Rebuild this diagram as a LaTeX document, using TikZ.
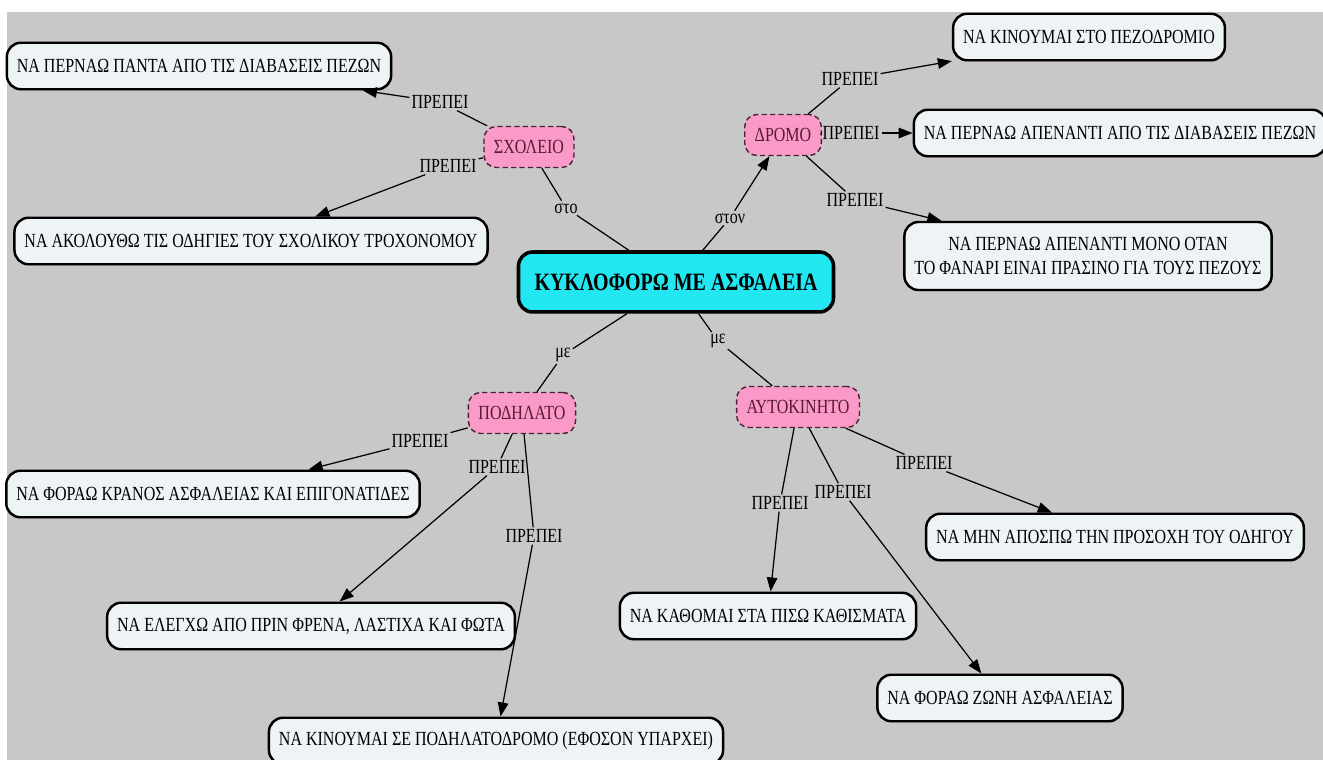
\documentclass[tikz,border=0pt]{standalone}
\usepackage{fontspec}
\setmainfont[FakeStretch=0.8]{Liberation Serif}
\usepackage{tikz}
\usetikzlibrary{positioning}
\usetikzlibrary{arrows.meta}
\usetikzlibrary{shadows}
\definecolor{bggray}{HTML}{C8C8C8}
\definecolor{leafblue}{HTML}{EEF3F6}
\definecolor{topicpink}{HTML}{FA9AC8}
\definecolor{topicline}{HTML}{4A2233}
\definecolor{topictext}{HTML}{5A1A30}
\definecolor{rootcyan}{HTML}{22E6F0}

\begin{document}
\begin{tikzpicture}[x=0.02cm,y=-0.02cm,
    every node/.style={font=\fontsize{11.4}{13.5}\selectfont},
    leaf/.style={draw=black,line width=1.4pt,rounded corners=8pt,fill=leafblue,
      inner xsep=0.2cm,minimum height=0.93cm,align=center,
      drop shadow={shadow xshift=0.6pt,shadow yshift=-0.8pt,opacity=0.45}},
    topic/.style={draw=topicline,line width=0.8pt,dash pattern=on 3pt off 1.8pt,
      rounded corners=7pt,fill=topicpink,text=topictext,inner xsep=0.2cm,minimum height=0.82cm},
    root/.style={draw=black,line width=2pt,rounded corners=8pt,fill=rootcyan,
      inner xsep=0.32cm,minimum height=1.2cm,font=\fontsize{14.2}{16}\selectfont\bfseries},
    link/.style={inner sep=1pt,text=black},
    conn/.style={line width=0.7pt},
    arr/.style={conn,-{Triangle[length=8pt,width=6pt]}}]

  % background
  \useasboundingbox (0,0) rectangle (1323,760);
  \fill[white] (0,0) rectangle (1323,760);
  \fill[bggray] (7,12) rectangle (1323,760);

  % middle
  \node[root] (safe) at (676,282) {ΚΥΚΛΟΦΟΡΩ ΜΕ ΑΣΦΑΛΕΙΑ};

  \node[topic] (school) at (529,147) {ΣΧΟΛΕΙΟ};
  \node[topic] (road) at (783,135) {ΔΡΟΜΟ};
  \node[topic] (bike) at (522,413) {ΠΟΔΗΛΑΤΟ};
  \node[topic] (car) at (798,407) {ΑΥΤΟΚΙΝΗΤΟ};

  \node[leaf] (crossing) at (199,66) {ΝΑ ΠΕΡΝΑΩ ΠΑΝΤΑ ΑΠΟ ΤΙΣ ΔΙΑΒΑΣΕΙΣ ΠΕΖΩΝ};
  \node[leaf] (warden) at (251,241) {ΝΑ ΑΚΟΛΟΥΘΩ ΤΙΣ ΟΔΗΓΙΕΣ ΤΟΥ ΣΧΟΛΙΚΟΥ ΤΡΟΧΟΝΟΜΟΥ};
  \node[leaf] (pavement) at (1089,37) {ΝΑ ΚΙΝΟΥΜΑΙ ΣΤΟ ΠΕΖΟΔΡΟΜΙΟ};
  \node[leaf] (zebra) at (1120,133) {ΝΑ ΠΕΡΝΑΩ ΑΠΕΝΑΝΤΙ ΑΠΟ ΤΙΣ ΔΙΑΒΑΣΕΙΣ ΠΕΖΩΝ};
  \node[leaf,minimum height=1.36cm] (light) at (1088,256) {ΝΑ ΠΕΡΝΑΩ ΑΠΕΝΑΝΤΙ ΜΟΝΟ ΟΤΑΝ\\ΤΟ ΦΑΝΑΡΙ ΕΙΝΑΙ ΠΡΑΣΙΝΟ ΓΙΑ ΤΟΥΣ ΠΕΖΟΥΣ};
  \node[leaf] (helmet) at (213,494) {ΝΑ ΦΟΡΑΩ ΚΡΑΝΟΣ ΑΣΦΑΛΕΙΑΣ ΚΑΙ ΕΠΙΓΟΝΑΤΙΔΕΣ};
  \node[leaf] (brakes) at (311,626) {ΝΑ ΕΛΕΓΧΩ ΑΠΟ ΠΡΙΝ ΦΡΕΝΑ, ΛΑΣΤΙΧΑ ΚΑΙ ΦΩΤΑ};
  \node[leaf] (lane) at (496,741) {ΝΑ ΚΙΝΟΥΜΑΙ ΣΕ ΠΟΔΗΛΑΤΟΔΡΟΜΟ (ΕΦΟΣΟΝ ΥΠΑΡΧΕΙ)};
  \node[leaf] (driver) at (1115,537) {ΝΑ ΜΗΝ ΑΠΟΣΠΩ ΤΗΝ ΠΡΟΣΟΧΗ ΤΟΥ ΟΔΗΓΟΥ};
  \node[leaf] (backseat) at (768,616) {ΝΑ ΚΑΘΟΜΑΙ ΣΤΑ ΠΙΣΩ ΚΑΘΙΣΜΑΤΑ};
  \node[leaf] (belt) at (1000,698) {ΝΑ ΦΟΡΑΩ ΖΩΝΗ ΑΣΦΑΛΕΙΑΣ};

  % link words
  \node[link] (sto) at (566,208) {στο};
  \node[link] (ston) at (730,218) {στον};
  \node[link] (me1) at (563,355) {με};
  \node[link] (me2) at (718,341) {με};
  \node[link] (s1) at (440,102) {ΠΡΕΠΕΙ};
  \node[link] (s2) at (448,166) {ΠΡΕΠΕΙ};
  \node[link] (r1) at (850,79) {ΠΡΕΠΕΙ};
  \node[link] (r2) at (851,133) {ΠΡΕΠΕΙ};
  \node[link] (r3) at (855,200) {ΠΡΕΠΕΙ};
  \node[link] (b1) at (420,441) {ΠΡΕΠΕΙ};
  \node[link] (b2) at (497,467) {ΠΡΕΠΕΙ};
  \node[link] (b3) at (534,536) {ΠΡΕΠΕΙ};
  \node[link] (c1) at (780,503) {ΠΡΕΠΕΙ};
  \node[link] (c2) at (843,492) {ΠΡΕΠΕΙ};
  \node[link] (c3) at (924,463) {ΠΡΕΠΕΙ};

  \draw[conn] (safe) -- (sto);
  \draw[conn] (sto) -- (school);
  \draw[conn] (safe) -- (ston);
  \draw[arr] (ston) -- (road);
  \draw[conn] (safe) -- (me1);
  \draw[conn] (me1) -- (bike);
  \draw[conn] (safe) -- (me2);
  \draw[conn] (me2) -- (car);

  \draw[conn] (school) -- (s1);
  \draw[arr] (s1) -- (crossing);
  \draw[conn] (school) -- (s2);
  \draw[arr] (s2) -- (warden);

  \draw[conn] (road) -- (r1);
  \draw[arr] (r1) -- (pavement);
  \draw[conn] (road) -- (r2);
  \draw[arr] (r2) -- (zebra);
  \draw[conn] (road) -- (r3);
  \draw[arr] (r3) -- (light);

  \draw[conn] (bike) -- (b1);
  \draw[arr] (b1) -- (helmet);
  \draw[conn] (bike) -- (b2);
  \draw[arr] (b2) -- (brakes);
  \draw[conn] (bike) -- (b3);
  \draw[arr] (b3) -- (lane);

  \draw[conn] (car) -- (c1);
  \draw[arr] (c1) -- (backseat);
  \draw[conn] (car) -- (c2);
  \draw[arr] (c2) -- (belt);
  \draw[conn] (car) -- (c3);
  \draw[arr] (c3) -- (driver);
\end{tikzpicture}
\end{document}
